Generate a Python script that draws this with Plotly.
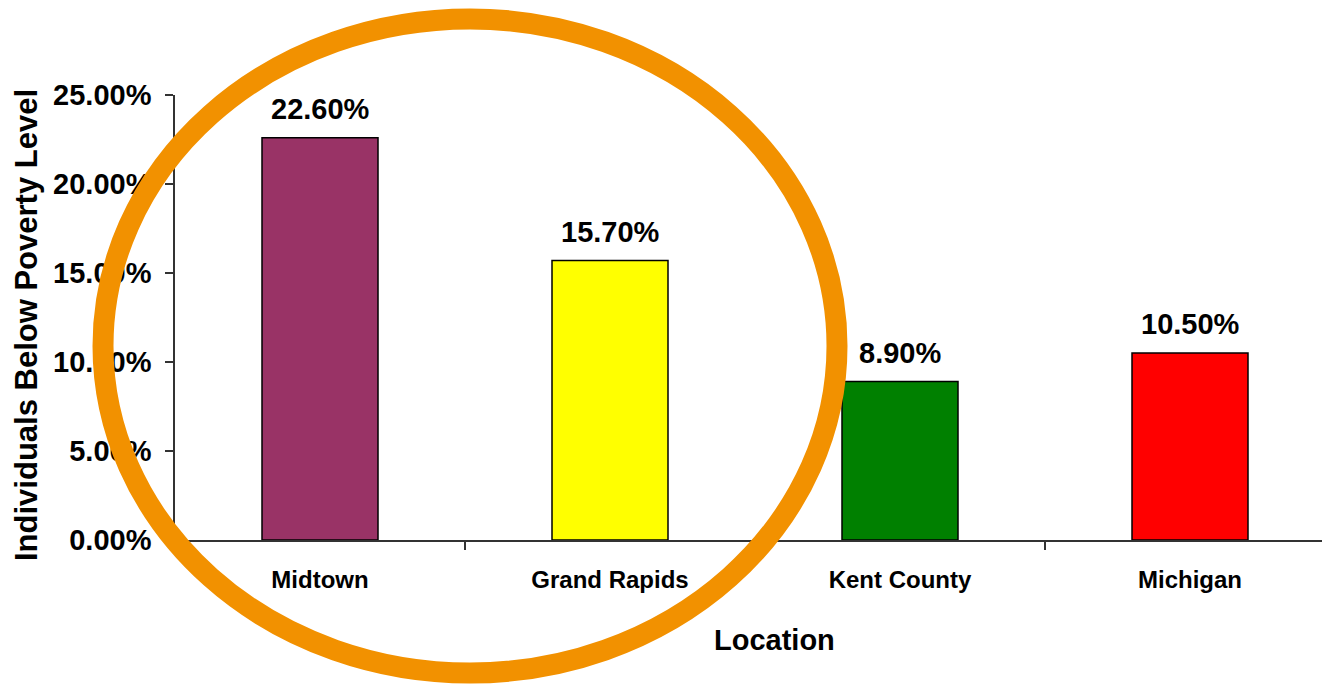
import plotly.graph_objects as go

# Share of individuals below the poverty level, by location
locations = ["Midtown", "Grand Rapids", "Kent County", "Michigan"]
poverty_rate = [0.226, 0.157, 0.089, 0.105]
bar_colors = ["#993366", "#FFFF00", "#008000", "#FF0000"]
y_ticks = [0.0, 0.05, 0.10, 0.15, 0.20, 0.25]

W, H = 1322, 684
M_L, M_R, M_T, M_B = 175, 0, 95, 144
PW = W - M_L - M_R
PH = H - M_T - M_B
CAT_PX = 290  # pixel width of one category slot

FONT = "Liberation Sans"


def px_x(x):
    return (x - M_L) / PW


def px_y(y):
    return (H - M_B - y) / PH


fig = go.Figure()
fig.add_trace(go.Bar(
    x=locations,
    y=poverty_rate,
    width=0.4,
    marker=dict(color=bar_colors, line=dict(color="#000000", width=1.5)),
    hoverinfo="x+y",
))

# value labels above each bar
for loc, v in zip(locations, poverty_rate):
    fig.add_annotation(
        x=loc, y=v, xref="x", yref="y",
        text=f"{v:.2%}", showarrow=False,
        yanchor="bottom", yshift=11,
        font=dict(family=FONT, size=29, color="#000000", weight="bold"),
    )

# axis titles
fig.add_annotation(
    x=px_x(26), y=px_y(325), xref="paper", yref="paper",
    text="Individuals Below Poverty Level", textangle=-90, showarrow=False,
    xanchor="center", yanchor="middle",
    font=dict(family=FONT, size=31, color="#000000", weight="bold"),
)
fig.add_annotation(
    x=px_x(774), y=px_y(640), xref="paper", yref="paper",
    text="Location", showarrow=False,
    xanchor="center", yanchor="middle",
    font=dict(family=FONT, size=29, color="#000000", weight="bold"),
)

# highlight ring around the two local bars
fig.add_shape(
    type="circle", xref="paper", yref="paper",
    x0=px_x(103), x1=px_x(837), y0=px_y(673), y1=px_y(19),
    line=dict(color="#F29100", width=21),
    layer="above",
)

n_slots = PW / CAT_PX
fig.update_layout(
    width=W, height=H,
    margin=dict(l=M_L, r=M_R, t=M_T, b=M_B, pad=0),
    paper_bgcolor="#FFFFFF", plot_bgcolor="#FFFFFF",
    showlegend=False,
    bargap=0.6,
    xaxis=dict(
        type="category",
        range=[-0.5, -0.5 + n_slots],
        showgrid=False, zeroline=False,
        showline=True, linecolor="#333333", linewidth=1.5,
        ticks="outside", tickson="boundaries", ticklen=8,
        tickcolor="#333333", tickwidth=1.5,
        ticklabelstandoff=17,
        tickfont=dict(family=FONT, size=24, color="#000000", weight="bold"),
    ),
    yaxis=dict(
        range=[0, 0.25],
        tickvals=y_ticks, tickformat=".2%",
        showgrid=False, zeroline=False,
        showline=True, linecolor="#333333", linewidth=1.5,
        ticks="outside", ticklen=8, tickcolor="#333333", tickwidth=1.5,
        ticklabelstandoff=8,
        tickfont=dict(family=FONT, size=29, color="#000000", weight="bold"),
    ),
)

fig.write_html("out.html")
